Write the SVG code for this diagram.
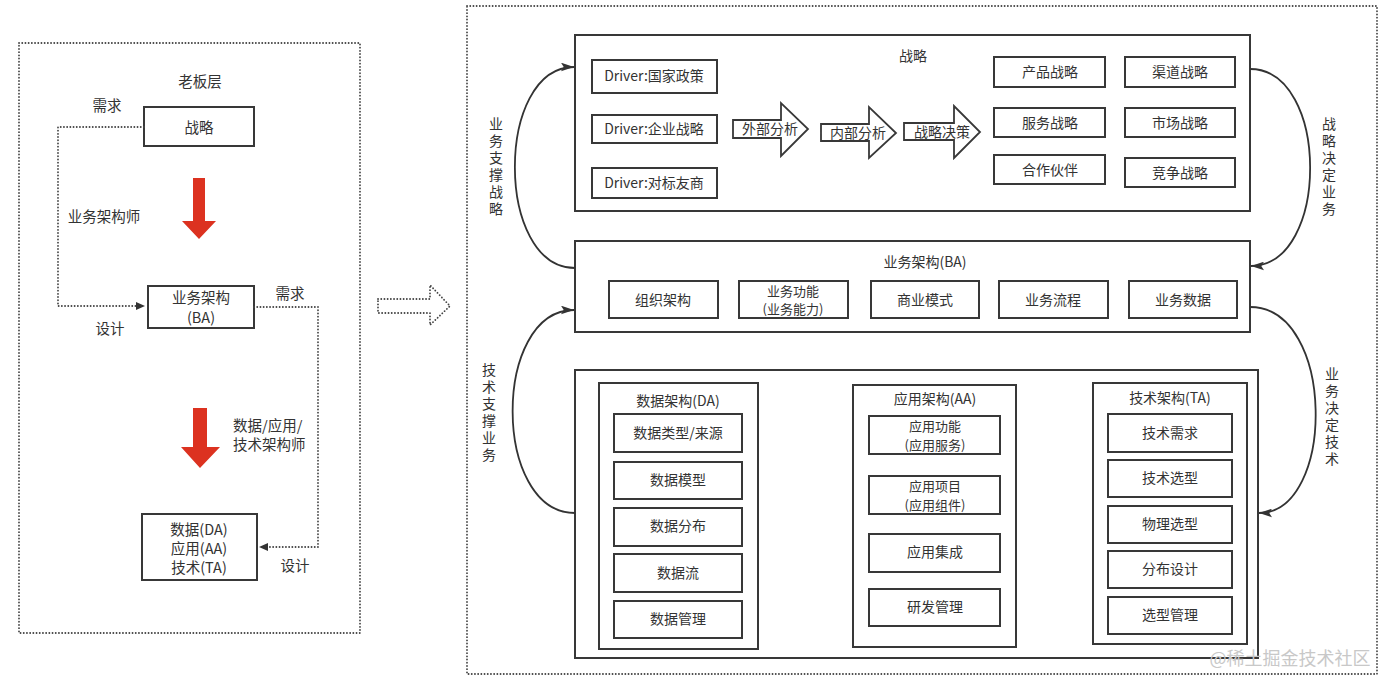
<svg xmlns="http://www.w3.org/2000/svg" width="1400" height="684" viewBox="0 0 1400 684">
<style>
  text { font-family: "Noto Sans CJK SC", "Noto Sans", sans-serif; fill: #333; font-size: 14px; text-anchor: middle; dominant-baseline: central; }
  .lp text { font-size: 14.5px; }
  .two { font-size: 13px; }
  .vt { writing-mode: vertical-rl; text-orientation: upright; letter-spacing: 3px; text-anchor: start; dominant-baseline: central; }
  .box { fill: #fff; stroke: #383838; stroke-width: 2; }
  .dot { fill: none; stroke: #444; stroke-width: 1.8; stroke-dasharray: 0.1 3.1; stroke-linecap: round; }
  .curve { fill: none; stroke: #333; stroke-width: 1.8; }
  .red { fill: #dc3220; }
  .blk { fill: #fff; stroke: #383838; stroke-width: 1.8; }
  .wm { fill: #c8c8c8; font-size: 18px; }
</style>
<defs>
  <marker id="arr" viewBox="0 0 12 8" refX="12" refY="4" markerWidth="13" markerHeight="9" orient="auto" markerUnits="userSpaceOnUse">
    <path d="M0,0 L12,4 L0,8 L2.5,4 z" fill="#333"/>
  </marker>
</defs>
<rect width="1400" height="684" fill="#fff"/>

<!-- Left panel -->
<g id="left-panel" class="lp">
  <rect class="dot" x="19" y="43" width="341" height="590"/>
  <text x="200" y="80">老板层</text>
  <text x="107" y="104">需求</text>
  <text x="104" y="215">业务架构师</text>
  <text x="110" y="327">设计</text>
  <text x="290" y="292">需求</text>
  <text x="233" y="424" style="text-anchor:start">数据/应用/<tspan x="233" dy="19">技术架构师</tspan></text>
  <text x="295" y="564">设计</text>
</g>
<g id="node-zhanlue-left">
  <rect class="box" x="144" y="107" width="110" height="39"/>
  <text x="199" y="126" style="font-size:14.5px">战略</text>
</g>
<g id="node-ba-left">
  <rect class="box" x="148" y="286" width="106" height="42"/>
  <text x="201" y="296.5" style="font-size:14.5px">业务架构<tspan x="201" dy="19">(BA)</tspan></text>
</g>
<g id="node-dat-left">
  <rect class="box" x="142" y="514" width="115" height="66"/>
  <text x="199" y="528" style="font-size:14.5px">数据(DA)<tspan x="199" dy="19">应用(AA)</tspan><tspan x="199" dy="19">技术(TA)</tspan></text>
</g>

<!-- Right panel -->
<g id="right-panel">
  <rect class="dot" x="467" y="6" width="910" height="668"/>
  <text class="vt" x="496" y="117">业务支撑战略</text>
  <text class="vt" x="1329" y="117">战略决定业务</text>
  <text class="vt" x="489" y="363">技术支撑业务</text>
  <text class="vt" x="1332" y="367">业务决定技术</text>
</g>

<g id="node-strategy">
  <rect class="box" x="575" y="35" width="675" height="176"/>
  <text x="913" y="55">战略</text>
  <rect class="box" x="592" y="60" width="125" height="33"/><text x="654" y="75">Driver:国家政策</text>
  <rect class="box" x="592" y="115" width="125" height="28"/><text x="654" y="128">Driver:企业战略</text>
  <rect class="box" x="592" y="168" width="125" height="30"/><text x="654" y="182">Driver:对标友商</text>
  <polygon class="blk" points="733,120 781,120 781,103 808,129 781,156 781,138 733,138"/>
  <text x="770" y="128">外部分析</text>
  <polygon class="blk" points="821,124 869,124 869,107 896,133 869,158 869,141 821,141"/>
  <text x="858" y="132">内部分析</text>
  <polygon class="blk" points="904,123 954,123 954,106 980,132 954,158 954,140 904,140"/>
  <text x="942" y="131">战略决策</text>
  <rect class="box" x="994" y="57" width="111" height="30"/><text x="1050" y="71">产品战略</text>
  <rect class="box" x="1125" y="57" width="110" height="30"/><text x="1180" y="71">渠道战略</text>
  <rect class="box" x="994" y="108" width="111" height="29"/><text x="1050" y="122">服务战略</text>
  <rect class="box" x="1125" y="108" width="110" height="29"/><text x="1180" y="122">市场战略</text>
  <rect class="box" x="994" y="155" width="111" height="29"/><text x="1050" y="169">合作伙伴</text>
  <rect class="box" x="1125" y="158" width="110" height="29"/><text x="1180" y="172">竞争战略</text>
</g>

<g id="node-ba">
  <rect class="box" x="575" y="241" width="675" height="91"/>
  <text x="925" y="261">业务架构(BA)</text>
  <rect class="box" x="609" y="281" width="109" height="37"/><text x="663" y="299">组织架构</text>
  <rect class="box" x="739" y="281" width="109" height="37"/><text class="two" x="793" y="290">业务功能<tspan x="793" dy="18">(业务能力)</tspan></text>
  <rect class="box" x="871" y="281" width="108" height="37"/><text x="925" y="299">商业模式</text>
  <rect class="box" x="999" y="281" width="109" height="37"/><text x="1053" y="299">业务流程</text>
  <rect class="box" x="1129" y="281" width="108" height="37"/><text x="1183" y="299">业务数据</text>
</g>

<g id="node-tech">
  <rect class="box" x="575" y="370" width="683" height="288"/>
</g>
<g id="node-da">
  <rect class="box" x="599" y="383" width="159" height="266"/>
  <text x="678" y="400">数据架构(DA)</text>
  <rect class="box" x="614" y="414" width="128" height="38"/><text x="678" y="432">数据类型/来源</text>
  <rect class="box" x="614" y="462" width="128" height="37"/><text x="678" y="479">数据模型</text>
  <rect class="box" x="614" y="508" width="128" height="38"/><text x="678" y="525">数据分布</text>
  <rect class="box" x="614" y="554" width="128" height="38"/><text x="678" y="572">数据流</text>
  <rect class="box" x="614" y="601" width="128" height="37"/><text x="678" y="618">数据管理</text>
</g>
<g id="node-aa">
  <rect class="box" x="853" y="385" width="163" height="262"/>
  <text x="935" y="398">应用架构(AA)</text>
  <rect class="box" x="869" y="416" width="131" height="38"/><text class="two" x="935" y="425.5">应用功能<tspan x="935" dy="18">(应用服务)</tspan></text>
  <rect class="box" x="869" y="476" width="131" height="38"/><text class="two" x="935" y="485.5">应用项目<tspan x="935" dy="18">(应用组件)</tspan></text>
  <rect class="box" x="869" y="534" width="131" height="38"/><text x="935" y="551">应用集成</text>
  <rect class="box" x="869" y="589" width="131" height="37"/><text x="935" y="606">研发管理</text>
</g>
<g id="node-ta">
  <rect class="box" x="1093" y="383" width="154" height="261"/>
  <text x="1170" y="397">技术架构(TA)</text>
  <rect class="box" x="1108" y="414" width="124" height="38"/><text x="1170" y="432">技术需求</text>
  <rect class="box" x="1108" y="460" width="124" height="37"/><text x="1170" y="477">技术选型</text>
  <rect class="box" x="1108" y="506" width="124" height="37"/><text x="1170" y="523">物理选型</text>
  <rect class="box" x="1108" y="551" width="124" height="37"/><text x="1170" y="568">分布设计</text>
  <rect class="box" x="1108" y="597" width="124" height="37"/><text x="1170" y="614">选型管理</text>
</g>

<g id="connectors">
  <polyline class="dot" points="144,127 58,127 58,306 140,306"/>
  <path d="M136,302 L145,306 L136,310 z" fill="#333"/>
  <polyline class="dot" points="254,307 318,307 318,547 264,547"/>
  <path d="M268,543 L259,547 L268,551 z" fill="#333"/>
  <polygon class="red" points="193,178 205,178 205,221 216,221 199,239 182,221 193,221"/>
  <polygon class="red" points="193,408 207,408 207,447 220,447 200,468 181,447 193,447"/>
  <polygon class="dot" points="378,299 430,299 430,285 450,306 430,325 430,313 378,313"/>
  <path class="curve" d="M575,268 C495,268 495,67 574,67" marker-end="url(#arr)"/>
  <path class="curve" d="M1250,69 C1330,69 1330,266 1251,266" marker-end="url(#arr)"/>
  <path class="curve" d="M575,513 C492,513 492,310 574,310" marker-end="url(#arr)"/>
  <path class="curve" d="M1250,307 C1336,307 1336,513 1259,513" marker-end="url(#arr)"/>
</g>

<text class="wm" x="1290" y="657">@稀土掘金技术社区</text>
</svg>
